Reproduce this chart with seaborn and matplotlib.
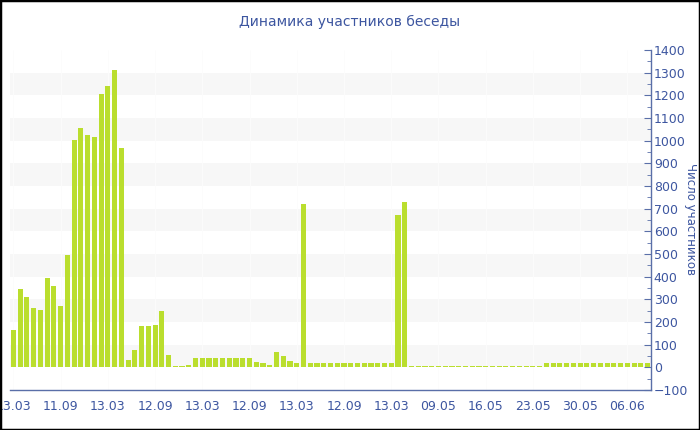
import pandas as pd
import matplotlib.pyplot as plt
import seaborn as sns
from matplotlib.ticker import MultipleLocator
from matplotlib.patches import Rectangle

# дневное число участников (оценка по картинке)
values = ([166, 345, 309, 263, 253, 396, 359, 269, 494, 1003, 1054, 1025, 1016,
           1206, 1241, 1310, 967, 32, 78, 182, 183, 186, 249, 53, 6, 6, 10]
          + [41] * 9
          + [24, 20, 12, 66, 50, 26, 17, 722]
          + [18] * 13
          + [672, 728]
          + [6] * 20
          + [17] * 16)
tick_labels = ['13.03', '11.09', '13.03', '12.09', '13.03', '12.09', '13.03',
               '12.09', '13.03', '09.05', '16.05', '23.05', '30.05', '06.06']

df = pd.DataFrame({'day': range(len(values)), 'members': values})

text_col = '#3d56a0'
axis_col = '#5a6fa8'
bar_col = '#bade2e'

sns.set_style('white')
plt.rcParams['font.family'] = ['DejaVu Sans']

fig = plt.figure(figsize=(7, 4.3), dpi=100)
ax = fig.add_axes([10 / 700, 40 / 430, 641 / 700, 340 / 430])

# полосы фона
for lo in range(0, 1400, 200):
    ax.axhspan(lo, lo + 100, color='#f7f7f7', zorder=0, lw=0)

sns.barplot(data=df, x='day', y='members', color=bar_col, saturation=1,
            width=0.76, linewidth=0, ax=ax, zorder=2)

tick_pos = list(range(0, 7 * len(tick_labels), 7))
for p in tick_pos:
    ax.axvline(p, color='#fcfcfc', lw=0.6, zorder=1)

ax.set_xlim(-0.5, len(values) - 0.5)
ax.set_ylim(-100, 1400)
ax.set_xticks(tick_pos)
ax.set_xticklabels(tick_labels)
ax.set_xlabel('')
ax.set_ylabel('')

ax.yaxis.tick_right()
ax.set_yticks(range(-100, 1401, 100))
ax.yaxis.set_minor_locator(MultipleLocator(50))

for s in ['left', 'top']:
    ax.spines[s].set_visible(False)
for s in ['right', 'bottom']:
    ax.spines[s].set_color(axis_col)
    ax.spines[s].set_linewidth(1)

ax.tick_params(axis='x', direction='inout', length=6, color=axis_col,
               labelcolor=text_col, labelsize=9, pad=4)
ax.tick_params(axis='y', which='major', direction='in', length=5, color=axis_col,
               labelcolor=text_col, labelsize=9, pad=2)
ax.tick_params(axis='y', which='minor', direction='in', length=3, color=axis_col)

fig.text(350 / 700, 1 - 22 / 430, 'Динамика участников беседы', ha='center', va='center',
         fontsize=10, color=text_col)
fig.text(691 / 700, 1 - 219 / 430, 'Число участников', ha='center', va='center',
         rotation=270, fontsize=8.5, color=text_col)

fig.patches.append(Rectangle((0, 0), 1, 1, transform=fig.transFigure, fill=False,
                             edgecolor='black', lw=2.5))

fig.savefig('out.png', dpi=100)
